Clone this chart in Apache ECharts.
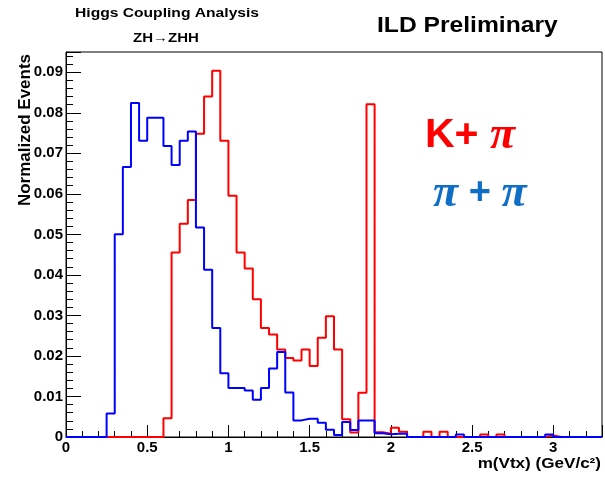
<!DOCTYPE html>
<html>
<head>
    <meta charset="utf-8">
    <title>m(Vtx)</title>
    <script src="https://cdn.jsdelivr.net/npm/echarts@6/dist/echarts.min.js"></script>
    <style>
        html, body {
            margin: 0;
            padding: 0;
            background: #ffffff;
        }

        #chart {
            width: 605px;
            height: 480px;
        }
    </style>
</head>
<body>
<div id="chart"></div>
<script>
    // histogram binning (GeV/c2)
    var binWidth = 0.05;
    var xMax = 3.3;
    var yMax = 0.095;

    // K + pi, one value per 0.05 bin, from 0 to 3.3
    var kpiValues = [
        0, 0, 0, 0, 0, 0, 0, 0, 0, 0,
        0, 0, 0.0046, 0.0455, 0.0526, 0.0585, 0.0748, 0.0840, 0.0904, 0.0731,
        0.0595, 0.0455, 0.0416, 0.0340, 0.0269, 0.0253, 0.0216, 0.0195, 0.0189, 0.0216,
        0.0175, 0.0245, 0.0298, 0.0216, 0.0044, 0.0011, 0.0109, 0.0821, 0.0012, 0.0008,
        0.0023, 0.0013, 0, 0, 0.0013, 0, 0.0013, 0, 0, 0,
        0, 0.0006, 0, 0.0006, 0, 0, 0, 0, 0, 0.0004,
        0, 0, 0, 0, 0, 0
    ];

    // pi + pi
    var pipiValues = [
        0, 0, 0, 0, 0, 0.0058, 0.0500, 0.0666, 0.0824, 0.0731,
        0.0788, 0.0788, 0.0718, 0.0671, 0.0731, 0.0754, 0.0517, 0.0413, 0.0269, 0.0157,
        0.0121, 0.0121, 0.0115, 0.0092, 0.0121, 0.0169, 0.0210, 0.0110, 0.0041, 0.0045,
        0.0045, 0.0035, 0.0018, 0.0005, 0.0037, 0.0017, 0.0041, 0.0041, 0.0009, 0.0007,
        0.0008, 0.0008, 0, 0, 0, 0, 0, 0, 0.0006, 0,
        0, 0, 0, 0, 0, 0, 0, 0, 0, 0.0006,
        0, 0, 0, 0, 0, 0
    ];

    // bin edges -> points for a step line
    function histPoints(values) {
        var pts = [];
        for (var i = 0; i < values.length; i++) {
            pts.push([+(i * binWidth).toFixed(3), values[i]]);
        }
        pts.push([xMax, values[values.length - 1]]);
        return pts;
    }

    // the original figure is a bit stretched sideways, so the texts get scaleX
    function boldText(text, x, y, size, sx, align) {
        return {
            type: 'text',
            x: x, y: y,
            scaleX: sx,
            style: {
                text: text,
                fontFamily: 'Liberation Sans', fontWeight: 'bold', fontSize: size,
                fill: '#000', textAlign: align || 'left', textVerticalAlign: 'top'
            }
        };
    }

    var chart = echarts.init(document.getElementById('chart'), null, {renderer: 'canvas'});

    var labelFont = {
        color: '#000',
        fontFamily: 'Liberation Sans',
        fontWeight: 'bold',
        fontSize: 15
    };

    var option = {
        animation: false,
        backgroundColor: '#ffffff',
        title: [
            {
                text: '{k|K+ }{p|\u03c0}',
                left: 420, top: 108,
                textStyle: {
                    rich: {
                        k: {fontFamily: 'Liberation Sans', fontSize: 41, color: '#ff0000'},
                        p: {fontFamily: 'Liberation Serif', fontStyle: 'italic', fontSize: 46, color: '#ff0000'}
                    }
                }
            },
            {
                text: '{p|\u03c0}{k| + }{p|\u03c0}',
                left: 428, top: 166,
                textStyle: {
                    rich: {
                        k: {fontFamily: 'Liberation Sans', fontSize: 38, color: '#0f6fc6'},
                        p: {fontFamily: 'Liberation Serif', fontStyle: 'italic', fontSize: 46, color: '#0f6fc6'}
                    }
                }
            }
        ],
        graphic: [
            boldText('Higgs Coupling Analysis', 75, 7, 12.5, 1.25),
            boldText('ZH\u2192ZHH', 133, 32, 12.5, 1.2),
            boldText('ILD Preliminary', 377, 15, 22, 1.12),
            boldText('m(Vtx) (GeV/c\u00b2)', 601, 457, 14, 1.22, 'right'),
            {
                type: 'text',
                x: 25, y: 130,
                rotation: Math.PI / 2,
                style: {
                    text: 'Normalized Events',
                    fontFamily: 'Liberation Sans', fontWeight: 'bold', fontSize: 17,
                    fill: '#000', textAlign: 'center', textVerticalAlign: 'middle'
                }
            }
        ],
        grid: {
            left: 66, right: 3, top: 52, bottom: 43,
            show: true,
            borderColor: '#000',
            borderWidth: 1
        },
        xAxis: {
            type: 'value',
            min: 0, max: xMax, interval: 0.5,
            axisLine: {lineStyle: {color: '#000', width: 1}},
            axisTick: {inside: true, length: 12, lineStyle: {color: '#000'}},
            minorTick: {show: true, splitNumber: 5, length: 6, lineStyle: {color: '#000'}},
            splitLine: {show: false},
            axisLabel: Object.assign({margin: 3, showMaxLabel: false}, labelFont)
        },
        yAxis: {
            type: 'value',
            min: 0, max: yMax, interval: 0.01,
            axisLine: {show: true, lineStyle: {color: '#000', width: 1}},
            axisTick: {show: true, inside: true, length: 15, lineStyle: {color: '#000'}},
            minorTick: {show: true, splitNumber: 5, length: 7, lineStyle: {color: '#000'}},
            splitLine: {show: false},
            axisLabel: Object.assign({margin: 3, showMaxLabel: false}, labelFont)
        },
        series: [
            {
                name: 'K+pi',
                type: 'line',
                step: 'end',
                symbol: 'none',
                clip: false,
                lineStyle: {color: '#ff0000', width: 2},
                data: histPoints(kpiValues)
            },
            {
                name: 'pi+pi',
                type: 'line',
                step: 'end',
                symbol: 'none',
                clip: false,
                lineStyle: {color: '#0000ff', width: 2},
                data: histPoints(pipiValues)
            }
        ]
    };
    chart.setOption(option);
</script>
</body>
</html>
